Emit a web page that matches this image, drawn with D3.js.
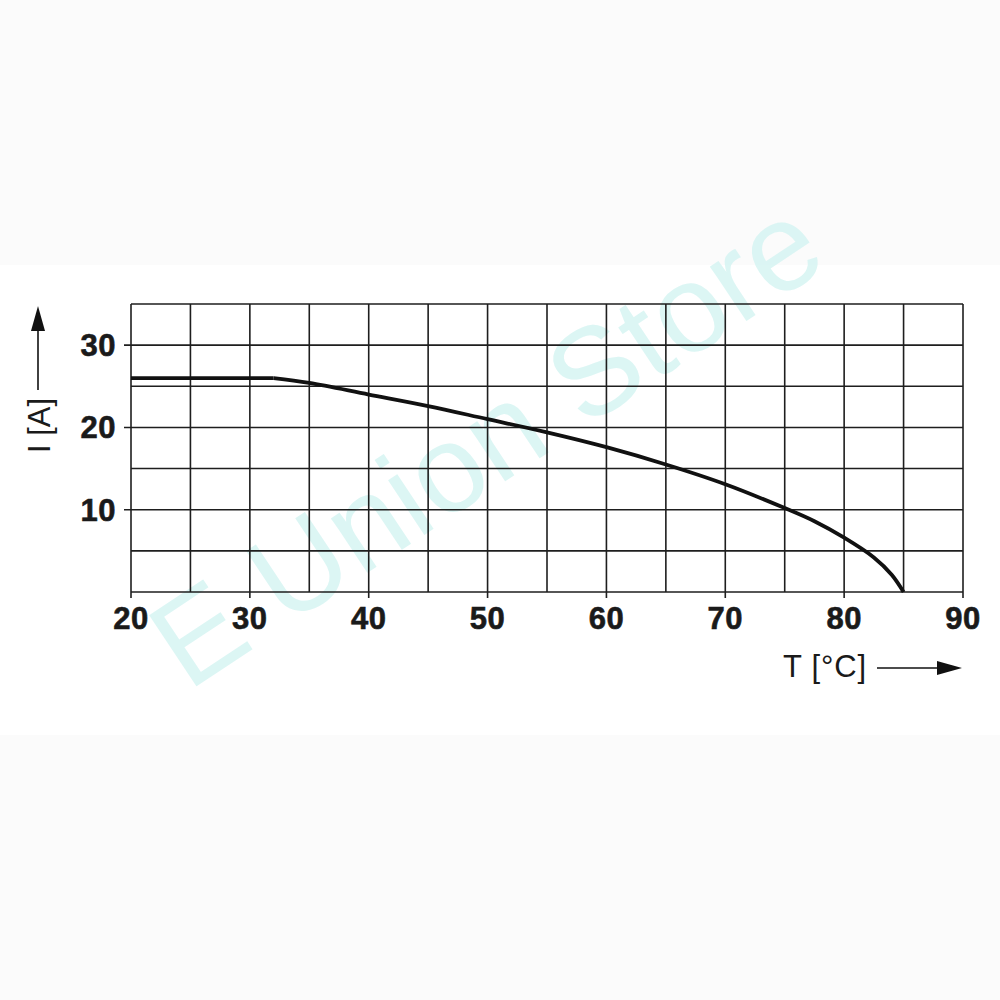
<!DOCTYPE html>
<html>
<head>
<meta charset="utf-8">
<script src="https://cdn.jsdelivr.net/npm/d3@7"></script>
<style>
  body { margin: 0; background: #fbfbfb; }
  svg { display: block; }
</style>
</head>
<body>
<div id="chart"></div>
<script>
// derating curve
const temps = [20, 32, 35, 40, 45, 50, 55, 60, 65, 70, 75, 77.5, 80, 82.5, 84, 85];
const amps  = [26, 26, 25.4, 24.0, 22.6, 21.0, 19.4, 17.6, 15.5, 13.1, 10.2, 8.6, 6.6, 4.2, 2.1, 0];
const kneeIndex = 1; // flat part ends at 32 °C

const xTicks = [20, 30, 40, 50, 60, 70, 80, 90];
const yTicks = [10, 20, 30];
const xGrid = d3.range(20, 91, 5);
const yGrid = d3.range(0, 36, 5);

const W = 1000, H = 1000;
const marginLeft = 131, marginTop = 304, plotW = 832, plotH = 288;

const svg = d3.select("#chart").append("svg")
  .attr("width", W).attr("height", H);

// white band behind the chart
svg.append("rect")
  .attr("x", 0).attr("y", 265).attr("width", W).attr("height", 470)
  .attr("fill", "#ffffff");

// watermark
svg.append("text")
  .attr("transform", "translate(188,692) rotate(-33.6)")
  .attr("font-family", "Liberation Sans, Arial, sans-serif")
  .attr("font-size", 124)
  .attr("fill", "#d6f5f3")
  .attr("opacity", 0.85)
  .text("E Union Store");

const g = svg.append("g")
  .attr("transform", "translate(" + marginLeft + "," + marginTop + ")");

const x = d3.scaleLinear().domain([20, 90]).range([0, plotW]);
const y = d3.scaleLinear().domain([0, 35]).range([plotH, 0]);

// grid
g.append("g").selectAll("line")
  .data(xGrid).enter().append("line")
  .attr("x1", d => x(d)).attr("x2", d => x(d))
  .attr("y1", 0).attr("y2", d => xTicks.includes(d) ? plotH + 6 : plotH)
  .attr("stroke", "#1e1e1e").attr("stroke-width", 1.6);

g.append("g").selectAll("line")
  .data(yGrid).enter().append("line")
  .attr("y1", d => y(d)).attr("y2", d => y(d))
  .attr("x1", d => yTicks.includes(d) ? -7 : 0).attr("x2", plotW)
  .attr("stroke", "#1e1e1e").attr("stroke-width", 1.6);

// tick labels
const font = "Liberation Sans, Arial, Helvetica, sans-serif";
g.append("g").selectAll("text")
  .data(xTicks).enter().append("text")
  .attr("x", d => x(d)).attr("y", plotH + 37)
  .attr("text-anchor", "middle")
  .attr("font-family", font).attr("font-weight", "bold").attr("font-size", 31)
  .attr("letter-spacing", 0.5)
  .attr("fill", "#1a1a1a").attr("stroke", "#1a1a1a").attr("stroke-width", 0.6)
  .text(d => d);

g.append("g").selectAll("text")
  .data(yTicks).enter().append("text")
  .attr("x", -15).attr("y", d => y(d) + 11)
  .attr("text-anchor", "end")
  .attr("font-family", font).attr("font-weight", "bold").attr("font-size", 31)
  .attr("letter-spacing", 0.5)
  .attr("fill", "#1a1a1a").attr("stroke", "#1a1a1a").attr("stroke-width", 0.6)
  .text(d => d);

// curve: flat part straight, falling part smooth
const pts = temps.map((t, i) => [t, amps[i]]);
const flatLine = d3.line().x(d => x(d[0])).y(d => y(d[1]));
const fallLine = d3.line().x(d => x(d[0])).y(d => y(d[1]))
  .curve(d3.curveCatmullRom.alpha(0.5));

const curve = g.append("g")
  .attr("fill", "none")
  .attr("stroke", "#111")
  .attr("stroke-width", 3.8)
  .attr("stroke-linejoin", "round");
curve.append("path").attr("d", flatLine(pts.slice(0, kneeIndex + 1)));
curve.append("path").attr("d", fallLine(pts.slice(kneeIndex)));

// axis titles
svg.append("text")
  .attr("x", 783).attr("y", 677)
  .attr("font-family", font).attr("font-size", 31)
  .attr("letter-spacing", 0.8)
  .attr("fill", "#1a1a1a")
  .text("T [°C]");

svg.append("line")
  .attr("x1", 877).attr("x2", 940).attr("y1", 668).attr("y2", 668)
  .attr("stroke", "#111").attr("stroke-width", 1.6);
svg.append("path")
  .attr("d", "M937,661 L962,668 L937,675 Z")
  .attr("fill", "#111");

svg.append("text")
  .attr("transform", "translate(50,453) rotate(-90)")
  .attr("font-family", font).attr("font-size", 31)
  .attr("fill", "#1a1a1a")
  .text("I [A]");

svg.append("line")
  .attr("x1", 38).attr("x2", 38).attr("y1", 390).attr("y2", 328)
  .attr("stroke", "#111").attr("stroke-width", 1.6);
svg.append("path")
  .attr("d", "M31,331 L38,306 L45,331 Z")
  .attr("fill", "#111");
</script>
</body>
</html>
